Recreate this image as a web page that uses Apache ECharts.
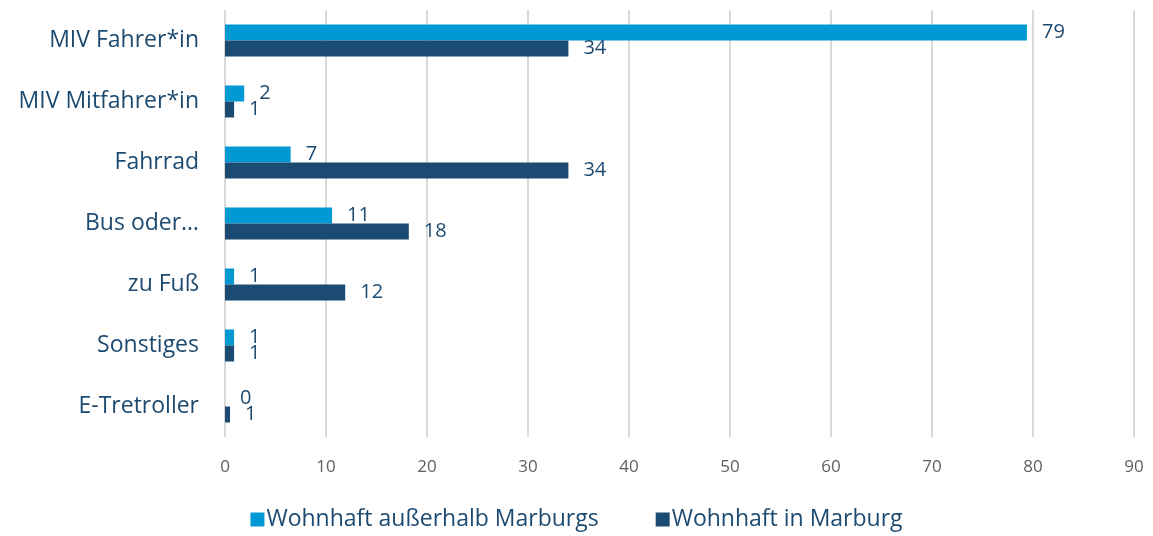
<!DOCTYPE html>
<html>
<head>
<meta charset="utf-8">
<script src="https://cdn.jsdelivr.net/npm/echarts@6/dist/echarts.min.js"></script>
<style>
  html, body { margin: 0; padding: 0; background: #fff; }
  #chart { width: 1153px; height: 536px; }
</style>
</head>
<body>
<div id="chart"></div>
<script>
// Kategorien (von oben nach unten)
const categories = ['MIV Fahrer*in', 'MIV Mitfahrer*in', 'Fahrrad', 'Bus oder…', 'zu Fuß', 'Sonstiges', 'E-Tretroller']
// Anteile in %
const ausserhalb = [79.4, 1.9, 6.5, 10.6, 0.9, 0.9, 0]
const inMarburg = [34.0, 0.9, 34.0, 18.2, 11.9, 0.9, 0.5]
const seriesNames = ['Wohnhaft außerhalb Marburgs', 'Wohnhaft in Marburg']
const xTicks = { min: 0, max: 90, interval: 10 }

const textBlue = '#1d4a70'
const chart = echarts.init(document.getElementById('chart'))

// Datenlabel rechts neben dem Balken, gerundet
const labelStyle = {
  show: true,
  position: 'right',
  distance: 15,
  color: textBlue,
  fontFamily: 'Open Sans',
  fontSize: 20,
  formatter: (p) => Math.round(p.value)
}

const option = {
  backgroundColor: '#ffffff',
  animation: false,
  grid: { left: 225, right: 19, top: 10, bottom: 99, containLabel: false },
  legend: {
    bottom: 0,
    left: 'center',
    itemWidth: 14,
    itemHeight: 14,
    itemGap: 57,
    icon: 'rect',
    textStyle: { color: textBlue, fontFamily: 'Open Sans', fontSize: 23, padding: [0, 0, 0, -3] },
    data: seriesNames
  },
  xAxis: {
    type: 'value',
    min: xTicks.min,
    max: xTicks.max,
    interval: xTicks.interval,
    axisLine: { show: false },
    axisTick: { show: false },
    axisLabel: { color: '#5f5f5f', fontFamily: 'Open Sans', fontSize: 17, margin: 22 },
    splitLine: { lineStyle: { color: '#d9d9d9', width: 2 } }
  },
  yAxis: {
    type: 'category',
    inverse: true,
    data: categories,
    axisLine: { show: false },
    axisTick: { show: false },
    axisLabel: { color: textBlue, fontFamily: 'Open Sans', fontSize: 23, margin: 26 }
  },
  series: [
    {
      name: seriesNames[0],
      type: 'bar',
      data: ausserhalb,
      barWidth: 16,
      barGap: '0%',
      itemStyle: { color: '#0099d3' },
      label: labelStyle
    },
    {
      name: seriesNames[1],
      type: 'bar',
      data: inMarburg,
      barWidth: 16,
      barGap: '0%',
      itemStyle: { color: '#1b4b72' },
      label: labelStyle
    }
  ]
}

chart.setOption(option)
</script>
</body>
</html>
